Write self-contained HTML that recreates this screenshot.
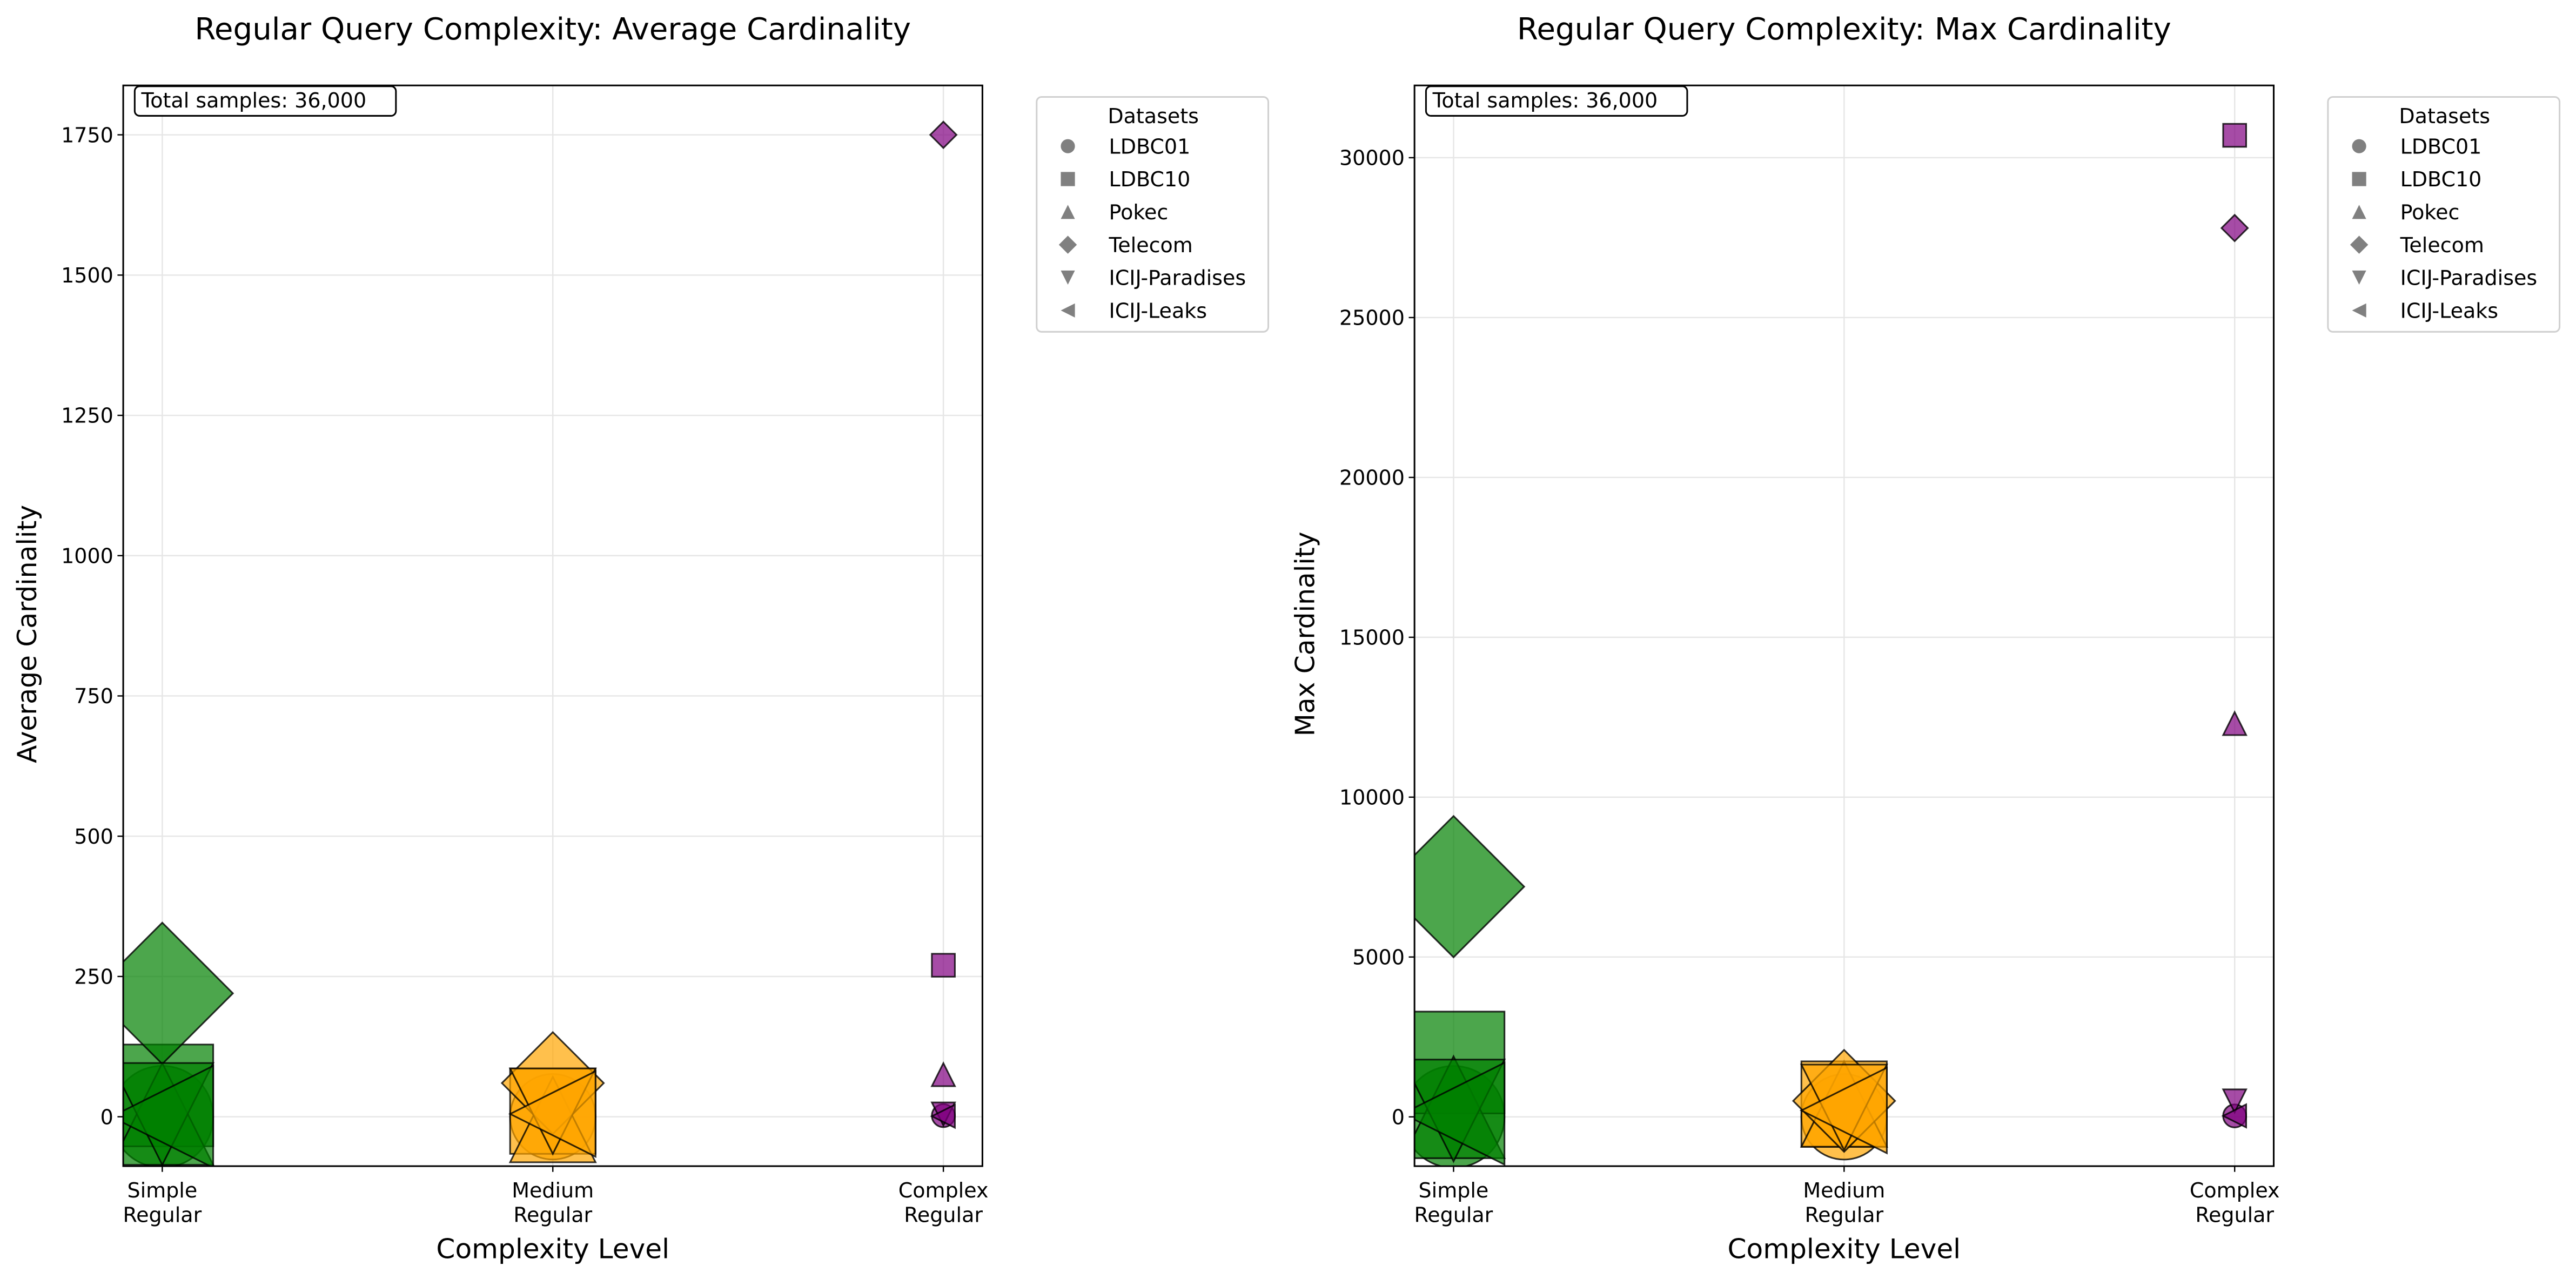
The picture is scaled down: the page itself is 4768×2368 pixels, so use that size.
<!DOCTYPE html>
<html><head><meta charset="utf-8"><style>
html,body{margin:0;padding:0;background:#fff;}
svg{display:block;font-family:"DejaVu Sans","Liberation Sans",sans-serif;}
</style></head><body>
<svg id="chart" width="4768" height="2368" viewBox="0 0 1568 778.7" xmlns="http://www.w3.org/2000/svg"></svg>
<script>
// ---- data ----
const categories = ["Simple\nRegular", "Medium\nRegular", "Complex\nRegular"];
const datasets = ["LDBC01", "LDBC10", "Pokec", "Telecom", "ICIJ-Paradises", "ICIJ-Leaks"];
const markerShapes = ["circle", "square", "up", "diamond", "down", "left"];
const categoryColors = ["#008000", "#FFA500", "#800080"];
// average cardinality per dataset [simple, medium, complex]
const avgLDBC01 = [0, 0, 2];
const avgLDBC10 = [38, 10, 270];
const avgPokec = [5, -5, 75];
const avgTelecom = [220, 60, 1750];
const avgParadises = [5, 10, 5];
const avgLeaks = [0, 5, 1];
// max cardinality per dataset
const maxLDBC01 = [0, 0, 30];
const maxLDBC10 = [1700, 400, 30700];
const maxPokec = [300, 400, 12300];
const maxTelecom = [7200, 500, 27800];
const maxParadises = [200, 300, 500];
const maxLeaks = [100, 200, 30];
// marker half-size per category (scatter s)
const markerSize = [31, 26, 7];
const telecomSize = [43, 31, 8];
const avgTicks = [0, 250, 500, 750, 1000, 1250, 1500, 1750];
const maxTicks = [0, 5000, 10000, 15000, 20000, 25000, 30000];

const NS = "http://www.w3.org/2000/svg";
const svg = document.getElementById("chart");
function el(tag, attrs, parent) {
  const e = document.createElementNS(NS, tag);
  for (const k in attrs) e.setAttribute(k, attrs[k]);
  (parent || svg).appendChild(e);
  return e;
}
function text(str, x, y, size, anchor, parent, rot) {
  const t = el("text", {x: x, y: y, "font-size": size, "text-anchor": anchor || "middle", fill: "#000"}, parent);
  if (rot) t.setAttribute("transform", "rotate(" + rot + " " + x + " " + y + ")");
  t.textContent = str;
  return t;
}
function marker(shape, cx, cy, h, fill, parent, stroke, op) {
  let e;
  const a = {fill: fill, "fill-opacity": op, stroke: stroke, "stroke-width": stroke === "none" ? 0 : 1, "stroke-opacity": 0.8};
  if (shape === "circle") { e = el("circle", Object.assign({cx: cx, cy: cy, r: h}, a), parent); }
  else {
    let pts;
    if (shape === "square") pts = [[-h,-h],[h,-h],[h,h],[-h,h]];
    if (shape === "diamond") pts = [[0,-h],[h,0],[0,h],[-h,0]];
    if (shape === "up") pts = [[0,-h],[h,h],[-h,h]];
    if (shape === "down") pts = [[0,h],[h,-h],[-h,-h]];
    if (shape === "left") pts = [[-h,0],[h,-h],[h,h]];
    e = el("polygon", Object.assign({points: pts.map(p => (cx+p[0]) + "," + (cy+p[1])).join(" ")}, a), parent);
  }
  return e;
}

function panel(cfg) {
  const g = el("g", {});
  
  
  const L = cfg.x0, R = cfg.x1, T = 52, B = 710;
  const xS = i => L + (i - (-0.1)) / 2.2 * (R - L);
  const yS = v => B - (v - cfg.ymin) / (cfg.ymax - cfg.ymin) * (B - T);
  const clipId = "clip-" + cfg.name;
  const cp = el("clipPath", {id: clipId}, g);
  el("rect", {x: L, y: T, width: R - L, height: B - T}, cp);
  cfg.ticks.forEach(v => {
    const gl = el("line", {x1: L, x2: R, y1: yS(v), y2: yS(v), stroke: "#e6e6e6", "stroke-width": 0.8}, g);
    
    
  });
  categories.forEach((c, i) => {
    const gl = el("line", {x1: xS(i), x2: xS(i), y1: T, y2: B, stroke: "#e6e6e6", "stroke-width": 0.8}, g);
    
    
  });
  const mg = el("g", {"clip-path": "url(#" + clipId + ")"}, g);
  
  
  cfg.series.forEach((vals, d) => {
    vals.forEach((v, i) => {
      const h = d === 3 ? telecomSize[i] : markerSize[i];
      const m = marker(markerShapes[d], xS(i), yS(v), h, categoryColors[i], mg, "#000", 0.7);
      
      
    });
  });
  const fr = el("rect", {x: L, y: T, width: R - L, height: B - T, fill: "none", stroke: "#000", "stroke-width": 1}, g);
  
  
  cfg.ticks.forEach(v => {
    el("line", {x1: L - 3.5, x2: L, y1: yS(v), y2: yS(v), stroke: "#000", "stroke-width": 0.8}, g);
    const t = text(String(v), L - 6, yS(v) + 4.5, 12.5, "end", g);
    
    
  });
  categories.forEach((c, i) => {
    el("line", {x1: xS(i), x2: xS(i), y1: B, y2: B + 3.5, stroke: "#000", "stroke-width": 0.8}, g);
    c.split("\n").forEach((p, k) => {
      const t = text(p, xS(i), B + 19 + k * 15, 12.5, "middle", g);
      
      
    });
  });
  const xt = text("Complexity Level", (L + R) / 2, 766, 16.5, "middle", g);
  
  
  const yt = text(cfg.ylabel, cfg.ylabelX, 386, 16, "middle", g, -90);
  
  
  const tt = text(cfg.title, (L + R) / 2, 24, 18.5, "middle", g);
  
  
  const ab = el("rect", {x: L + 7, y: T + 0.5, width: 159, height: 18, rx: 3, fill: "#fff", stroke: "#000", "stroke-width": 1}, g);
  
  
  const at = text("Total samples: 36,000", L + 11, T + 13.5, 12.5, "start", g);
  
  
  const lx = cfg.legendX;
  const lg = el("g", {}, g);
  
  
  el("rect", {x: lx, y: 59, width: 141, height: 143, rx: 3, fill: "#fff", stroke: "#d0d0d0", "stroke-width": 1}, lg);
  text("Datasets", lx + 71, 75, 12.5, "middle", lg);
  datasets.forEach((d, k) => {
    const ey = 89 + k * 20;
    const e = el("g", {}, lg);
    
    
    marker(markerShapes[k], lx + 19, ey, markerShapes[k] === "diamond" ? 5.5 : 4.3, "#808080", e, "none", 1);
    text(d, lx + 44, ey + 4.5, 12.5, "start", e);
  });
}

panel({name: "avg-cardinality-panel", x0: 75, x1: 598, ymin: -88, ymax: 1838, ticks: avgTicks,
  series: [avgLDBC01, avgLDBC10, avgPokec, avgTelecom, avgParadises, avgLeaks],
  title: "Regular Query Complexity: Average Cardinality", ylabel: "Average Cardinality", ylabelX: 22, legendX: 631});
panel({name: "max-cardinality-panel", x0: 861, x1: 1384, ymin: -1541, ymax: 32260, ticks: maxTicks,
  series: [maxLDBC01, maxLDBC10, maxPokec, maxTelecom, maxParadises, maxLeaks],
  title: "Regular Query Complexity: Max Cardinality", ylabel: "Max Cardinality", ylabelX: 800, legendX: 1417});
</script>
</body></html>
